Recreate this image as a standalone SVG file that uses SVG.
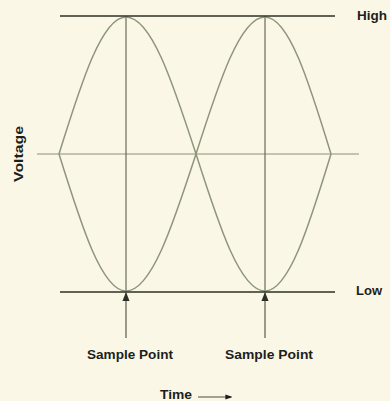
<svg xmlns="http://www.w3.org/2000/svg" width="390" height="401" viewBox="0 0 390 401">
<style>
.lbl{font-family:"Liberation Sans",Arial,sans-serif;font-weight:bold;font-size:13px;fill:#1e1e1a}
.lvl{stroke:#2c3024;stroke-width:1.6;fill:none}
.mid{stroke:#8b907a;stroke-width:1.2;fill:none}
.vert{stroke:#5c6050;stroke-width:1.1;fill:none}
.wave{stroke:#8f957c;stroke-width:1.5;fill:none}
.samp{stroke:#4a4e40;stroke-width:1.1;fill:none}
</style>
<defs>
<marker id="up" viewBox="0 0 10 10" refX="9" refY="5" markerWidth="9" markerHeight="9" markerUnits="userSpaceOnUse" orient="auto">
<path d="M0,1 L10,5 L0,9 z" fill="#2c3024"/>
</marker>
<marker id="dot" viewBox="0 0 10 10" refX="8" refY="5" markerWidth="7" markerHeight="7" markerUnits="userSpaceOnUse" orient="auto">
<path d="M0,1.5 L10,5 L0,8.5 z" fill="#1e1e1a"/>
</marker>
</defs>
<rect width="390" height="401" fill="#fbf7e7"/>
<g id="axes">
<line class="mid" x1="37" y1="154" x2="359" y2="154"/>
<line class="vert" x1="126" y1="16" x2="126" y2="292"/>
<line class="vert" x1="265" y1="16" x2="265" y2="292"/>
</g>
<g id="waves">
<path class="wave" d="M59,154 C81.4,82.1 101.9,17 126,17 C151.2,17 172.6,82.1 196,154 C219,225.9 240.2,291 265,291 C288.8,291 309,225.9 331,154"/>
<path class="wave" d="M59,154 C81.4,225.9 101.9,291 126,291 C151.2,291 172.6,225.9 196,154 C219,82.1 240.2,17 265,17 C288.8,17 309,82.1 331,154"/>
</g>
<g id="high">
<line class="lvl" x1="60" y1="16" x2="335" y2="16"/>
<text class="lbl" x="357" y="20" textLength="30" lengthAdjust="spacingAndGlyphs">High</text>
</g>
<g id="low">
<line class="lvl" x1="60" y1="292" x2="335" y2="292"/>
<text class="lbl" x="356" y="295" textLength="26" lengthAdjust="spacingAndGlyphs">Low</text>
</g>
<g id="voltage">
<text class="lbl" transform="translate(23,154) rotate(-90)" text-anchor="middle" textLength="56" lengthAdjust="spacingAndGlyphs">Voltage</text>
</g>
<g id="sample1">
<text class="lbl" x="130" y="359" text-anchor="middle" textLength="86" lengthAdjust="spacingAndGlyphs">Sample Point</text>
</g>
<g id="sample2">
<text class="lbl" x="269" y="359" text-anchor="middle" textLength="88" lengthAdjust="spacingAndGlyphs">Sample Point</text>
</g>
<g id="time">
<text class="lbl" x="160" y="399" textLength="32" lengthAdjust="spacingAndGlyphs">Time</text>
</g>
<g id="connectors">
<line class="samp" x1="126" y1="338" x2="126" y2="293" marker-end="url(#up)"/>
<line class="samp" x1="265" y1="338" x2="265" y2="293" marker-end="url(#up)"/>
<line class="samp" x1="198" y1="397" x2="231" y2="397" stroke="#1e1e1a" stroke-width="1.3" marker-end="url(#dot)"/>
</g>
</svg>
